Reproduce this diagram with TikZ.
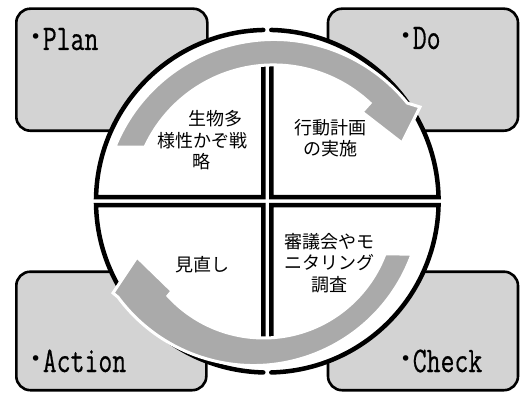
\documentclass[tikz,border=0pt]{standalone}
\usepackage{graphicx}
\usepackage{fontspec}
\newfontfamily\cjk{Noto Sans CJK JP}
\newfontfamily\dejavu{DejaVu Sans}
\newfontfamily\monofont[FakeBold=0.6]{Latin Modern Mono}
\usetikzlibrary{calc}
\definecolor{boxgray}{RGB}{211,211,211}
\definecolor{arrowgray}{RGB}{170,170,170}
\newcommand{\bul}{\makebox[14.2pt][c]{\raisebox{7pt}{\dejavu\fontsize{19}{19}\selectfont •}}}
\newcommand{\sq}[1]{\scalebox{0.75}[1]{#1}}
\begin{document}
\begin{tikzpicture}[x=1pt,y=1pt,
  pbox/.style={draw=black, line width=2.6pt, fill=boxgray, rounded corners=14pt},
  quadfill/.style={fill=white, draw=none},
  quadline/.style={draw=black, line width=4.5pt, line join=miter, line cap=round},
  carrow/.style={draw=white, line width=3pt, fill=arrowgray, line join=miter},
  phase/.style={anchor=base west, inner sep=0pt, font=\monofont\fontsize{36}{36}\selectfont},
  jtext/.style={font=\cjk\fontsize{18}{21.5}\selectfont, inner sep=0pt}]
\useasboundingbox (0,0) rectangle (520,392);
\def\cx{267.3}\def\cy{190.8}\def\R{171.3}
% corner boxes
\draw[pbox] (16.3,261.3) rectangle (207.3,383.3);
\draw[pbox] (328,261.3) rectangle (518,383.3);
\draw[pbox] (16.3,1.8) rectangle (206.3,120.3);
\draw[pbox] (328,1.8) rectangle (518,120.3);
% quadrant fills
\fill[quadfill] (263.3,194.8) -- ($(\cx,\cy)+(91.338:\R)$) arc[start angle=91.338,end angle=178.662,radius=\R] -- cycle;
\fill[quadfill] (271.3,194.8) -- ($(\cx,\cy)+(88.662:\R)$) arc[start angle=88.662,end angle=1.338,radius=\R] -- cycle;
\fill[quadfill] (263.3,186.8) -- ($(\cx,\cy)+(181.338:\R)$) arc[start angle=181.338,end angle=268.662,radius=\R] -- cycle;
\fill[quadfill] (271.3,186.8) -- ($(\cx,\cy)+(358.662:\R)$) arc[start angle=358.662,end angle=271.338,radius=\R] -- cycle;
% quadrant outlines
\draw[quadline] (263.3,340) -- (263.3,194.8) -- ($(\cx,\cy)+(178.662:\R)$) arc[start angle=178.662,end angle=91.338,radius=\R];
\draw[quadline] (271.3,340) -- (271.3,194.8) -- ($(\cx,\cy)+(1.338:\R)$) arc[start angle=1.338,end angle=88.662,radius=\R];
\draw[quadline] (263.3,41) -- (263.3,186.8) -- ($(\cx,\cy)+(181.338:\R)$) arc[start angle=181.338,end angle=268.662,radius=\R];
\draw[quadline] (271.3,41) -- (271.3,186.8) -- ($(\cx,\cy)+(358.662:\R)$) arc[start angle=358.662,end angle=271.338,radius=\R];
% circular arrows
\draw[carrow] ($(274,181)+(158.1:171.5)$) arc[start angle=158.1,end angle=39,radius=171.5]
  -- (420,285) -- (402,249) -- (362,280) -- (370,288.9)
  arc[start angle=46.9,end angle=155.2,radius=141.4] -- cycle;
\draw[carrow] ($(253.5,195)+(-19.8:168.5)$) arc[start angle=-19.8,end angle=-143.5,radius=168.5]
  -- (113,99) -- (137,135) -- (172,101) -- (168,96.1)
  arc[start angle=-137.5,end angle=-20.6,radius=129.7] -- cycle;
% labels
\node[phase] (plan) at (28.4,342) {\bul\sq{Plan}};
\node[phase] (do) at (398.4,343) {\bul\sq{Do}};
\node[phase] (action) at (28.4,20) {\bul\sq{Action}};
\node[phase] (check) at (398.4,20) {\bul\sq{Check}};
\node[jtext, align=left] (plantext) at (202.5,251.5) {\hspace*{31pt}生物多\\様性かぞ戦\\\hspace*{35pt}略};
\node[jtext, align=center] (dotext) at (330,254) {行動計画\\の実施};
\node[jtext] (acttext) at (202.5,127.5) {見直し};
\node[jtext, align=center] (chktext) at (329.5,129) {審議会やモ\\ニタリング\\調査};
\end{tikzpicture}
\end{document}
